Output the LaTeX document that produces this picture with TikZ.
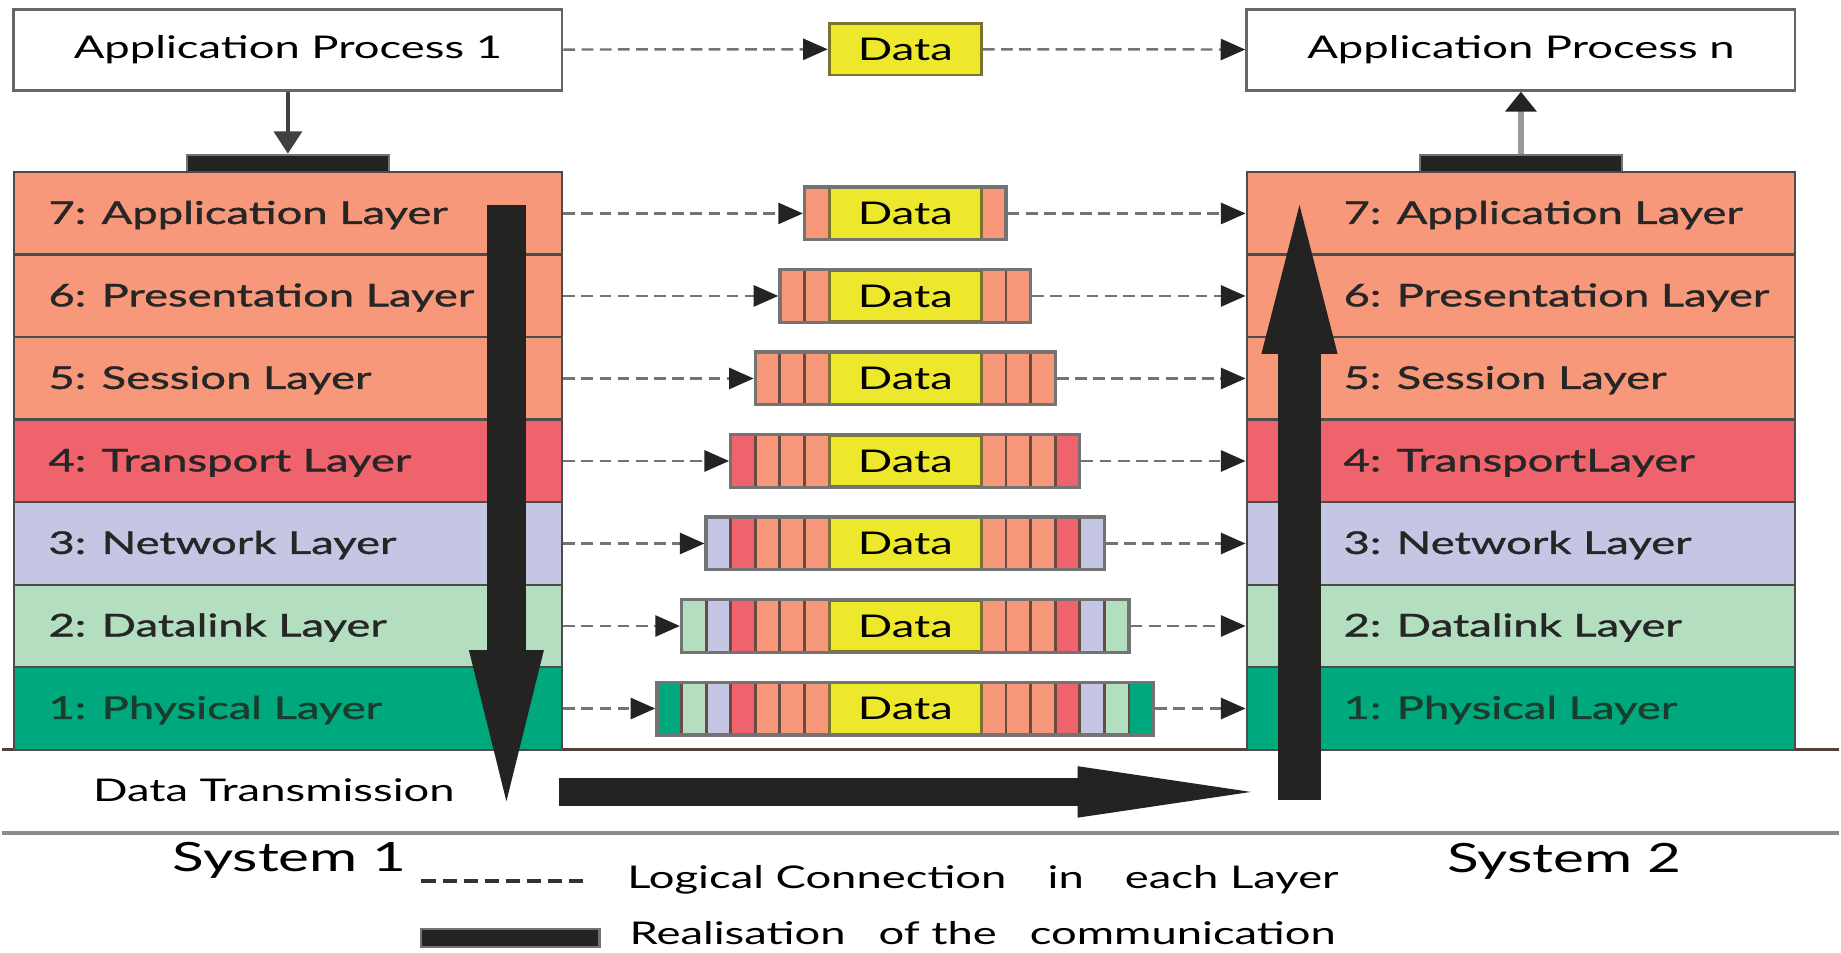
\documentclass[tikz,border=0pt]{standalone}
\usepackage{fontspec}
\setmainfont{Lato}[FakeStretch=1.45]
\newfontfamily\layerfont{Lato}[FakeStretch=1.45,FakeBold=1.2]
\usetikzlibrary{arrows.meta,positioning}

\definecolor{salmon}{RGB}{247,152,122}
\definecolor{trred}{RGB}{239,99,109}
\definecolor{netlav}{RGB}{197,198,227}
\definecolor{dlgreen}{RGB}{180,222,192}
\definecolor{phygreen}{RGB}{0,168,125}
\definecolor{datayel}{RGB}{238,232,44}
\definecolor{inkblack}{RGB}{35,35,34}
\definecolor{sepbrown}{RGB}{105,75,65}
\colorlet{lay7}{salmon}
\colorlet{lay6}{salmon}
\colorlet{lay5}{salmon}
\colorlet{lay4}{trred}
\colorlet{lay3}{netlav}
\colorlet{lay2}{dlgreen}
\colorlet{lay1}{phygreen}

\tikzset{
  txt/.style={font=\fontsize{7.6}{9}\selectfont},
  box/.style={txt, draw=black!60, line width=0.7pt, fill=white, minimum width=46.8mm, minimum height=6.9mm, inner sep=0pt},
  layer/.style={draw=black!70, line width=0.6pt, minimum width=46.8mm, minimum height=7.043mm, inner sep=0pt},
  lname/.style={anchor=mid west, inner sep=0pt, font=\layerfont\fontsize{7.6}{9}\selectfont},
  bar/.style={fill=inkblack, draw=black!55, line width=0.5pt, minimum width=17.2mm, minimum height=1.5mm, inner sep=0pt},
  pkt/.style={draw=black!55, line width=0.8pt, minimum height=4.5mm, inner sep=0pt},
  seg/.style={draw=sepbrown, line width=0.7pt},
  core/.style={txt, fill=datayel, draw={rgb,255:red,125;green,115;blue,45}, line width=0.7pt, minimum width=13mm, minimum height=4.4mm, inner sep=0pt},
  logic/.style={draw=black!55, line width=0.6pt, dash pattern=on 1mm off 0.55mm, -{Triangle[length=2.1mm,width=1.8mm,color=inkblack]}},
  bigarrow/.style={draw=inkblack},
  note/.style={txt, anchor=base west, inner sep=0pt},
  sysname/.style={anchor=base west, inner sep=0pt, font=\fontsize{9.8}{12}\selectfont},
}

\begin{document}
\begin{tikzpicture}[x=0.1mm,y=-0.1mm]
  \path[fill=white] (0,0) rectangle (1568,813);

  % ground of the transmission
  \draw[draw={rgb,255:red,80;green,65;blue,60}, line width=0.7pt] (0,640) -- (1568,640);
  \draw[draw=black!45, line width=1pt] (0,711) -- (1568,711);

  \node[box] (AP1) at (244,42.5) {Application Process 1};
  \node[box] (APn) at (1296.5,42.5) {Application Process n};
  \node[core] (D0) at (771,42) {Data};
  \draw[logic] (AP1) -- (D0);
  \draw[logic] (D0) -- (APn);

  \node[bar] (B1) at (244,139.5) {};
  \node[bar] (B2) at (1296.5,139.5) {};
  \draw[-{Triangle[length=1.9mm,width=2.4mm]}, draw=black!75, line width=0.8pt] (AP1) -- (B1);
  \draw[-{Triangle[length=1.7mm,width=2.6mm,color=inkblack]}, draw=black!40, line width=1.4pt] (B2) -- (APn);

  % the two stacks
  \foreach \n/\ltxt/\rtxt/\tcol in {7/Application Layer/Application Layer/black!85,
      6/Presentation Layer/Presentation Layer/black!85, 5/Session Layer/Session Layer/black!85,
      4/Transport Layer/TransportLayer/black!85, 3/Network Layer/Network Layer/black!85,
      2/Datalink Layer/Datalink Layer/black!85, 1/Physical Layer/Physical Layer/{rgb,255:red,25;green,60;blue,45}}{
    \node[layer, fill=lay\n] (L\n) at (244,{182.2+70.43*(7-\n)}) {};
    \node[layer, fill=lay\n] (R\n) at (1296.5,{182.2+70.43*(7-\n)}) {};
    \node[lname, text=\tcol] (LT\n) at ([xshift=3mm]L\n.west) {\n: \ltxt};
    \node[lname, text=\tcol] (RT\n) at ([xshift=8.3mm]R\n.west) {\n: \rtxt};
  }

  % packets with their headers
  \foreach \n in {7,...,1}{
    \pgfmathsetmacro{\yc}{182.2+70.43*(7-\n)}
    \foreach \m in {\n,...,7}{
      \draw[seg, fill=lay\m] ({706-21*(8-\m)},{\yc-22.5}) rectangle ({706-21*(7-\m)},{\yc+22.5});
      \draw[seg, fill=lay\m] ({836+21*(7-\m)},{\yc-22.5}) rectangle ({836+21*(8-\m)},{\yc+22.5});
    }
    \node[core] (D\n) at (771,\yc) {Data};
    \node[pkt, minimum width={(130+42*(8-\n))*0.1mm}] (P\n) at (771,\yc) {};
    \draw[logic] (L\n) -- (P\n);
    \draw[logic] (P\n) -- (R\n);
  }

  % realisation of the communication
  \coordinate (dn1) at (430.5,175);
  \coordinate (dn2) at (430.5,684);
  \coordinate (tr1) at (475,676);
  \coordinate (tr2) at (1066,676);
  \coordinate (up1) at (1107.5,683);
  \coordinate (up2) at (1107.5,175);
  \draw[bigarrow, line width=3.3mm, -{Triangle[length=12.9mm,width=6.4mm,line width=0pt]}] (dn1) -- (dn2);
  \draw[bigarrow, line width=2.4mm, -{Triangle[length=14.8mm,width=4.4mm,line width=0pt]}] (tr1) -- (tr2);
  \draw[bigarrow, line width=3.7mm, -{Triangle[length=12.7mm,width=6.5mm,line width=0pt]}] (up1) -- (up2);

  \node[note] (trans) at (77,684) {Data Transmission};
  \node[sysname] (sys1) at (145,744) {System 1};
  \node[sysname] (sys2) at (1233,745) {System 2};

  % legend
  \coordinate (lg1) at (358,752);
  \coordinate (lg2) at (500,752);
  \draw[draw=black!80, line width=0.8pt, dash pattern=on 1.2mm off 0.6mm] (lg1) -- (lg2);
  \node[note] (lgtxt) at (533,758) {Logical Connection\hspace{10pt}in\hspace{10pt}each Layer};
  \node[bar, minimum width=15.2mm] (lgbar) at (434,800.5) {};
  \node[note] (rltxt) at (535,806) {Realisation\hspace{8pt}of the\hspace{8pt}communication};
\end{tikzpicture}
\end{document}
